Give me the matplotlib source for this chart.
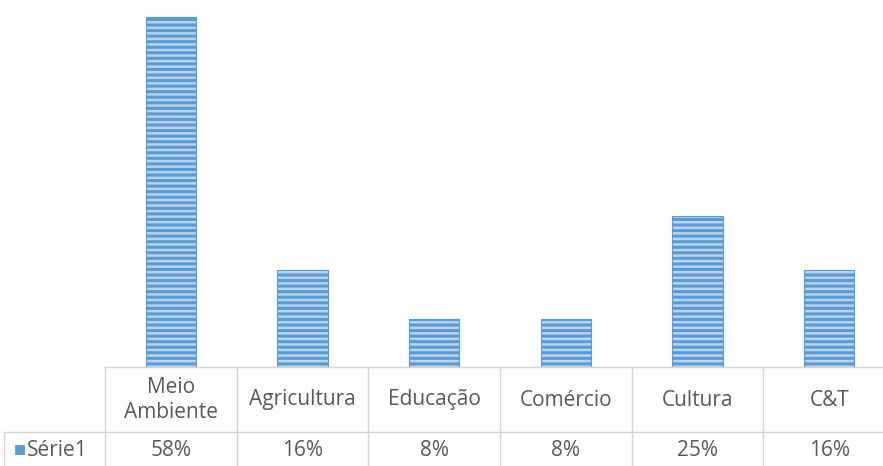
import matplotlib
matplotlib.use("Agg")
import matplotlib.pyplot as plt
from matplotlib.lines import Line2D
from matplotlib.patches import Rectangle

categorias = ["Meio\nAmbiente", "Agricultura", "Educação", "Comércio", "Cultura", "C&T"]
valores = [0.58, 0.16, 0.08, 0.08, 0.25, 0.16]
rotulos = ["58%", "16%", "8%", "8%", "25%", "16%"]
serie = "Série1"

W, H = 883, 466
plt.rcParams["font.family"] = ["Open Sans", "DejaVu Sans"]
plt.rcParams["hatch.linewidth"] = 2.2
plt.rcParams["hatch.color"] = "#5b9bd5"

cinza = "#595959"
linha = "#d4d4d4"
azul = "#5b9bd5"
claro = "#b9d4ef"

fig = plt.figure(figsize=(W / 100, H / 100), dpi=100)

# area do grafico em pixels (base dos bars em y=367)
x0, x1 = 105, 895
y_base, y_top = 367, 5
ax = fig.add_axes([x0 / W, (H - y_base) / H, (x1 - x0) / W, (y_base - y_top) / H])
ax.set_xlim(-0.5, len(categorias) - 0.5)
ax.set_ylim(0, 0.6)
ax.axis("off")

xs = range(len(categorias))
ax.bar(xs, valores, width=0.38, color=claro, edgecolor=azul,
       hatch="---", linewidth=0.8)

# tabela de dados abaixo do grafico
def py(p):
    # pixel vertical -> coordenada do eixo
    return (y_base - p) / (y_base - y_top)

tr = ax.get_xaxis_transform()
ax.add_line(Line2D([-0.5, 6], [py(367)] * 2, transform=tr, color=linha,
                   lw=1, clip_on=False))
fig.add_artist(Line2D([4 / W, 1], [(H - 432) / H] * 2, color=linha, lw=1))
for i in range(len(categorias) + 1):
    ax.add_line(Line2D([i - 0.5] * 2, [py(367), py(470)], transform=tr,
                       color=linha, lw=1, clip_on=False))
fig.add_artist(Line2D([4 / W] * 2, [(H - 432) / H, 0], color=linha, lw=1))

for i, (c, r) in enumerate(zip(categorias, rotulos)):
    ax.text(i, py(400), c, transform=tr, ha="center", va="center",
            fontsize=15, color=cinza, linespacing=1.2, clip_on=False)
    ax.text(i, py(451), r, transform=tr, ha="center", va="center",
            fontsize=15, color=cinza, clip_on=False)

# legenda da serie
fig.add_artist(Rectangle((15 / W, (H - 454) / H), 9 / W, 9 / H,
                         facecolor=azul, edgecolor=azul, lw=0.6))
fig.text(27 / W, (H - 451) / H, serie, ha="left", va="center",
         fontsize=15, color=cinza)

fig.savefig("out.png", dpi=100, facecolor="white")
